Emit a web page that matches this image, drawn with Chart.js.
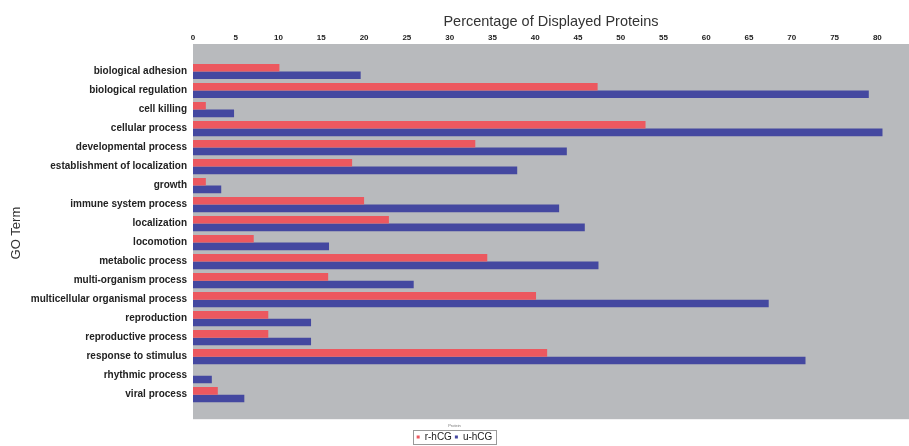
<!DOCTYPE html>
<html>
<head>
<meta charset="utf-8">
<script src="https://cdn.jsdelivr.net/npm/chart.js@4/dist/chart.umd.min.js"></script>
<style>
  html, body { margin: 0; padding: 0; background: #fff; }
</style>
</head>
<body>
<canvas id="chart" width="909" height="446"></canvas>
<script>
// ***** Data *****
const categories = [
  'biological adhesion', 'biological regulation', 'cell killing', 'cellular process',
  'developmental process', 'establishment of localization', 'growth', 'immune system process',
  'localization', 'locomotion', 'metabolic process', 'multi-organism process',
  'multicellular organismal process', 'reproduction', 'reproductive process',
  'response to stimulus', 'rhythmic process', 'viral process'
];
const seriesNames = ['r-hCG', 'u-hCG'];
const rHcg = [10.1, 47.3, 1.5, 52.9, 33.0, 18.6, 1.5, 20.0, 22.9, 7.1, 34.4, 15.8, 40.1, 8.8, 8.8, 41.4, 0, 2.9];
const uHcg = [19.6, 79.0, 4.8, 80.6, 43.7, 37.9, 3.3, 42.8, 45.8, 15.9, 47.4, 25.8, 67.3, 13.8, 13.8, 71.6, 2.2, 6.0];
const xTicks = [0, 5, 10, 15, 20, 25, 30, 35, 40, 45, 50, 55, 60, 65, 70, 75, 80];

const red = 'rgb(236, 88, 95)';
const blue = 'rgb(68, 72, 160)';
const plotGray = 'rgb(184, 186, 189)';
const textColor = '#222';

// gray panel, a bit taller than the bar area
const panelBg = {
  id: 'panelBg',
  beforeDraw(chart) {
    const { ctx, chartArea: a } = chart;
    ctx.save();
    ctx.fillStyle = plotGray;
    ctx.fillRect(a.left, a.top - 18, a.right - a.left, a.bottom - a.top + 33);
    ctx.restore();
  }
};

// thin frame round the legend items
const legendFrame = {
  id: 'legendFrame',
  afterDraw(chart) {
    const lg = chart.legend;
    if (!lg || !lg.legendHitBoxes.length) return;
    const boxes = lg.legendHitBoxes;
    const x0 = boxes[0].left - 4;
    const x1 = boxes[boxes.length - 1].left + boxes[boxes.length - 1].width + 3;
    const y0 = boxes[0].top - 2;
    const h = boxes[0].height + 4;
    const { ctx } = chart;
    ctx.save();
    ctx.strokeStyle = '#999';
    ctx.lineWidth = 1;
    ctx.strokeRect(Math.round(x0) + 0.5, Math.round(y0) + 0.5, Math.round(x1 - x0), Math.round(h));
    ctx.restore();
  }
};

const data = {
  labels: categories,
  datasets: [
    { label: seriesNames[0], data: rHcg, backgroundColor: red, categoryPercentage: 0.8, barPercentage: 1.0 },
    { label: seriesNames[1], data: uHcg, backgroundColor: blue, categoryPercentage: 0.8, barPercentage: 1.0 }
  ]
};

const configChart = {
  type: 'bar',
  data: data,
  plugins: [panelBg, legendFrame],
  options: {
    responsive: false,
    animation: false,
    indexAxis: 'y',
    layout: { padding: { left: 0, right: 0, top: 0, bottom: -6 } },
    scales: {
      x: {
        position: 'top',
        min: 0,
        max: 83.7,
        afterBuildTicks: (s) => { s.ticks = xTicks.map(v => ({ value: v })); },
        afterFit: (s) => { s.height = 62; },
        grid: { display: false, drawTicks: false },
        border: { display: false },
        ticks: { padding: 19, color: textColor, font: { family: 'Liberation Sans', size: 8, weight: 'bold' } },
        title: {
          display: true,
          text: 'Percentage of Displayed Proteins',
          color: '#333',
          padding: { top: 13, bottom: 0 },
          font: { family: 'Liberation Sans', size: 14.5 }
        }
      },
      y: {
        afterFit: (s) => { s.width = 193; },
        grid: { display: false, drawTicks: false },
        border: { display: false },
        ticks: { padding: 6, color: textColor, font: { family: 'Liberation Sans', size: 10, weight: 'bold' } },
        title: {
          display: true,
          text: 'GO Term',
          color: '#333',
          padding: { top: 9, bottom: 0 },
          font: { family: 'Liberation Sans', size: 13 }
        }
      }
    },
    plugins: {
      tooltip: { enabled: false },
      legend: {
        position: 'bottom',
        title: { display: true, text: 'Protein', color: '#777', padding: { top: 20, bottom: 0 }, font: { family: 'Liberation Sans', size: 4 } },
        labels: {
          color: textColor,
          usePointStyle: true,
          pointStyle: 'rect',
          boxWidth: 3,
          boxHeight: 3,
          padding: 3,
          font: { family: 'Liberation Sans', size: 10 }
        }
      }
    }
  }
};

// Initialize chart
const goChart = new Chart(document.getElementById('chart'), configChart);
</script>
</body>
</html>
